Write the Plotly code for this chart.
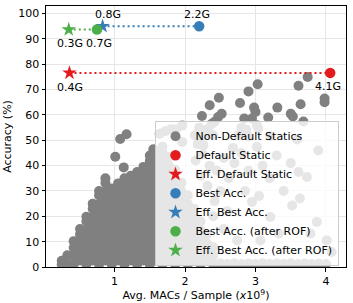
import plotly.graph_objects as go

# ---- Data ----
gray_macs = (
    [0.25] * 2 + [0.33] * 2 + [0.42] * 4 + [0.51] * 5 + [0.60] * 7 + [0.69] * 8 +
    [0.78] * 10 + [0.87] * 11 + [0.96] * 10 + [1.05] * 10 + [1.14] * 11 + [1.23] * 11 +
    [1.32] * 12 + [1.41] * 12 + [1.50] * 14 + [1.59] * 14 + [1.68] * 15 + [1.77] * 13 +
    [1.86] * 12 + [1.95] * 10 + [2.04] * 9 + [2.13] * 7 + [2.22] * 6 + [2.31] * 4 + [2.40] * 3
)
gray_acc = [
    1.0, 2.5,
    1.2, 4.6,
    1.0, 4.2, 7.6, 10.2,
    2.6, 6.0, 9.4, 12.8, 15.0,
    1.0, 4.4, 7.8, 11.2, 14.6, 18.0, 19.8,
    2.6, 6.0, 9.4, 12.8, 16.2, 19.6, 23.0, 25.0,
    1.0, 4.4, 7.8, 11.2, 14.6, 18.0, 21.4, 24.8, 28.2, 30.0,
    2.6, 6.0, 9.4, 12.8, 16.2, 19.6, 23.0, 26.4, 29.8, 33.2, 35.0,
    1.0, 4.4, 7.8, 11.2, 14.6, 18.0, 21.4, 24.8, 28.2, 31.0,
    2.6, 6.0, 9.4, 12.8, 16.2, 19.6, 23.0, 26.4, 29.8, 33.0,
    1.0, 4.4, 7.8, 11.2, 14.6, 18.0, 21.4, 24.8, 28.2, 31.6, 35.0,
    2.6, 6.0, 9.4, 12.8, 16.2, 19.6, 23.0, 26.4, 29.8, 33.2, 36.0,
    1.0, 4.4, 7.8, 11.2, 14.6, 18.0, 21.4, 24.8, 28.2, 31.6, 35.0, 37.5,
    2.6, 6.0, 9.4, 12.8, 16.2, 19.6, 23.0, 26.4, 29.8, 33.2, 36.6, 39.5,
    1.0, 4.4, 7.8, 11.2, 14.6, 18.0, 21.4, 24.8, 28.2, 31.6, 35.0, 38.4, 41.8, 44.0,
    2.6, 6.0, 9.4, 12.8, 16.2, 19.6, 23.0, 26.4, 29.8, 33.2, 36.6, 40.0, 43.4, 45.8,
    1.0, 4.4, 7.8, 11.2, 14.6, 18.0, 21.4, 24.8, 28.2, 31.6, 35.0, 38.4, 41.8, 45.2, 47.5,
    2.6, 6.0, 9.4, 12.8, 16.2, 19.6, 23.0, 26.4, 29.8, 33.2, 36.6, 40.0, 43.4,
    1.0, 4.4, 7.8, 11.2, 14.6, 18.0, 21.4, 24.8, 28.2, 31.6, 35.0, 38.4,
    2.6, 6.0, 9.4, 12.8, 16.2, 19.6, 23.0, 26.4, 29.8, 33.2,
    1.0, 4.4, 7.8, 11.2, 14.6, 18.0, 21.4, 24.8, 28.2,
    2.6, 6.0, 9.4, 12.8, 16.2, 19.6, 23.0,
    1.0, 4.4, 7.8, 11.2, 14.6, 18.0,
    2.6, 6.0, 9.4, 12.8,
    1.0, 4.4, 7.8,
]

sparse_macs = [
    1.01, 1.08, 1.17, 1.13, 1.55,
    1.64, 1.72, 1.80, 1.87, 1.96, 1.96,
    2.24, 2.52, 2.47, 2.42, 2.35, 2.48, 2.33, 2.38, 2.28, 2.22, 2.18, 2.14, 2.26, 2.40, 2.20,
    2.78, 2.90, 3.03, 2.98, 3.00, 2.95, 2.84, 2.87, 2.80, 2.76, 2.90, 3.04, 3.18, 3.21, 3.02,
    3.31, 3.50, 3.53, 3.64, 3.68, 3.59, 3.61, 3.74, 3.98, 3.98,
    3.89, 3.73, 3.61, 3.63, 3.52, 4.01, 4.08, 3.87, 3.78, 3.21, 3.33, 3.07, 2.74, 2.95, 3.02,
    2.15, 2.25, 2.35, 2.22, 2.32, 2.45, 2.55, 2.50, 2.42, 2.62, 2.70, 2.80, 2.90, 3.10, 3.30,
    3.20, 2.40, 2.55, 2.60, 2.85, 3.40, 3.50, 3.05, 2.68,
    2.50, 2.60, 2.70, 2.80, 2.90, 3.00, 3.10, 3.20, 3.30, 3.40, 3.50, 3.60, 3.70, 3.80, 3.90, 4.00,
]
sparse_acc = [
    43.5, 50.5, 52.4, 39.3, 46.5,
    52.6, 53.6, 54.4, 54.3, 55.8, 49.3,
    59.6, 60.5, 59.2, 57.3, 63.8, 66.8, 54.6, 56.5, 52.5, 50.5, 48.5, 52.0, 48.0, 52.0, 55.0,
    64.7, 69.3, 72.1, 62.9, 61.2, 58.6, 58.6, 54.2, 55.0, 52.0, 51.5, 54.6, 59.0, 51.6, 55.9,
    62.9, 60.5, 59.4, 64.2, 57.4, 50.3, 71.5, 75.0, 66.5, 65.0,
    46.0, 35.5, 37.5, 27.0, 24.3, 10.5, 5.9, 17.8, 13.2, 19.7, 13.2, 10.5, 10.5, 25.7, 47.4,
    42.0, 44.5, 40.0, 36.0, 32.0, 38.0, 43.0, 30.0, 26.0, 35.0, 41.0, 45.0, 38.0, 40.0, 44.0,
    35.0, 20.0, 15.0, 22.0, 30.0, 30.0, 41.0, 28.0, 47.0,
    1.4, 1.2, 1.5, 1.2, 1.4, 1.2, 1.5, 1.2, 1.4, 1.2, 1.5, 1.2, 1.4, 1.2, 1.3, 1.2,
]

default_macs, default_acc = [4.06], [76.6]
eff_default_macs, eff_default_acc = [0.36], [76.6]
best_macs, best_acc = [2.20], [95.0]
eff_best_macs, eff_best_acc = [0.83], [95.0]
rof_macs, rof_acc = [0.75], [93.7]
eff_rof_macs, eff_rof_acc = [0.35], [93.7]

label_text = ["0.4G", "4.1G", "0.8G", "2.2G", "0.3G", "0.7G"]
label_macs = [eff_default_macs[0], default_macs[0], eff_best_macs[0], best_macs[0],
              eff_rof_macs[0], rof_macs[0]]
label_acc = [eff_default_acc[0], default_acc[0], eff_best_acc[0], best_acc[0],
             eff_rof_acc[0], rof_acc[0]]
label_dx = [1, -2, 5, -2, 1, 2]
label_dy = [-15, -14, 12, 12, -14, -14]

RED, BLUE, GREEN, GRAY = "#e41a1c", "#377eb8", "#4daf4a", "#808080"
FONT = "DejaVu Sans"

fig = go.Figure()
fig.add_trace(go.Scatter(
    x=gray_macs + sparse_macs, y=gray_acc + sparse_acc, mode="markers",
    marker=dict(color=GRAY, size=10, line=dict(width=0)),
    name="Non-Default Statics"))

# dotted connectors
for xs, ys, c in [
    (eff_default_macs + default_macs, eff_default_acc + default_acc, RED),
    (eff_best_macs + best_macs, eff_best_acc + best_acc, BLUE),
    (eff_rof_macs + rof_macs, eff_rof_acc + rof_acc, GREEN),
]:
    fig.add_trace(go.Scatter(x=xs, y=ys, mode="lines", showlegend=False,
                             line=dict(color=c, width=2, dash="2px,3px")))

for xs, ys, c, sym, nm in [
    (default_macs, default_acc, RED, "circle", "Default Static"),
    (eff_default_macs, eff_default_acc, RED, "star", "Eff. Default Static"),
    (best_macs, best_acc, BLUE, "circle", "Best Acc."),
    (eff_best_macs, eff_best_acc, BLUE, "star", "Eff. Best Acc."),
    (rof_macs, rof_acc, GREEN, "circle", "Best Acc. (after ROF)"),
    (eff_rof_macs, eff_rof_acc, GREEN, "star", "Eff. Best Acc. (after ROF)"),
]:
    fig.add_trace(go.Scatter(
        x=xs, y=ys, mode="markers", name=nm,
        marker=dict(color=c, symbol=sym, size=10.5 if sym == "circle" else 11,
                    line=dict(width=0))))

for t, x, y, dx, dy in zip(label_text, label_macs, label_acc, label_dx, label_dy):
    fig.add_annotation(x=x, y=y, text=t, showarrow=False, xshift=dx, yshift=dy,
                       font=dict(size=11, color="black", family=FONT))

axis_common = dict(
    showline=True, mirror=True, linecolor="black", linewidth=1,
    ticks="outside", ticklen=3.5, tickwidth=1, tickcolor="black",
    showgrid=True, gridcolor="#e6e6e6", gridwidth=1, zeroline=False,
    tickfont=dict(size=11, color="black", family=FONT),
)

fig.update_layout(
    width=353, height=303,
    margin=dict(l=46, r=7, t=6, b=36),
    plot_bgcolor="white", paper_bgcolor="white",
    font=dict(family=FONT, size=11, color="black"),
    hovermode=False,
    xaxis=dict(range=[0.027, 4.284], tickvals=[1, 2, 3, 4],
               title=dict(text="Avg. MACs / Sample (<i>x</i>10<sup>9</sup>)",
                          font=dict(size=11), standoff=2),
               **axis_common),
    yaxis=dict(range=[0, 103], tickvals=list(range(0, 101, 10)),
               title=dict(text="Accuracy (%)", font=dict(size=11), standoff=4),
               **axis_common),
    legend=dict(x=0.975, xanchor="right", y=0.005, yanchor="bottom",
                bgcolor="rgba(255,255,255,0.8)", bordercolor="#cccccc", borderwidth=1,
                font=dict(size=11, family=FONT, color="black"),
                tracegroupgap=0, itemsizing="trace"),
    showlegend=True,
)

fig.write_html("out.html", config={"displayModeBar": False},
               post_script="document.body.style.margin='0';")
